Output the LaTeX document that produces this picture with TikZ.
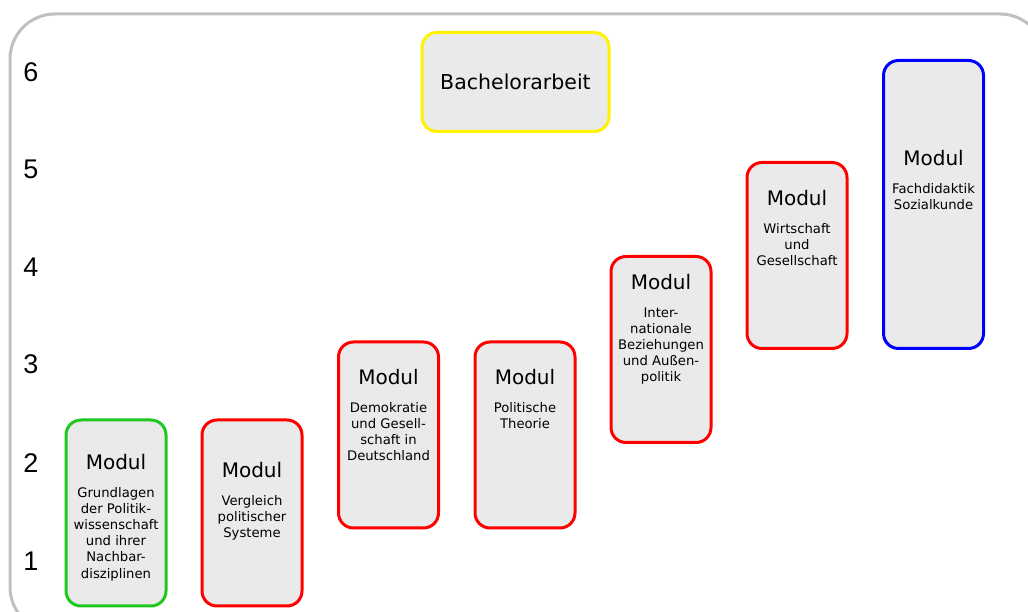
\documentclass[tikz,border=0pt]{standalone}
\usepackage{fontspec}
\setmainfont{DejaVu Sans}
\newfontfamily\numfont{Liberation Sans}
\usetikzlibrary{positioning}
\definecolor{grgreen}{RGB}{30,200,30}
\definecolor{boxgray}{RGB}{234,234,234}
\definecolor{framegray}{RGB}{192,192,192}
\begin{document}
\begin{tikzpicture}[x=1pt, y=1pt]
      \tikzstyle{modbox} = [draw, fill=boxgray, line width=3pt, rounded corners=15pt, minimum width=100pt, minimum height=186pt, inner sep=0pt]
      \tikzstyle{modtitle} = [font=\fontsize{20}{24}\selectfont, inner sep=0pt, anchor=north]
      \tikzstyle{modtext} = [font=\fontsize{13.2}{16.2}\selectfont, align=center, inner sep=0pt, node distance=17pt]
      \tikzstyle{sem} = [font=\numfont\fontsize{27}{27}\selectfont, inner sep=0pt]
      \useasboundingbox (0,0) rectangle (1028,612);

      % frame
      \draw[framegray, line width=3pt, rounded corners=45pt] (10,598) rectangle (1045,-20);

      % semesters
      \node[sem](s6) at (31,540){6};
      \node[sem](s5) at (31,443){5};
      \node[sem](s4) at (31,345){4};
      \node[sem](s3) at (31,248){3};
      \node[sem](s2) at (31,149){2};
      \node[sem](s1) at (31,51){1};

      % modules
      \node[modbox, draw=grgreen](m1) at (116,99){};
      \node[modtitle, below=35.5pt of m1.north](t1){Modul};
      \node[modtext, below=of t1](x1){Grundlagen\\der Politik-\\wissenschaft\\und ihrer\\Nachbar-\\disziplinen};

      \node[modbox, draw=red](m2) at (252,99){};
      \node[modtitle, below=43.5pt of m2.north](t2){Modul};
      \node[modtext, below=of t2](x2){Vergleich\\politischer\\Systeme};

      \node[modbox, draw=red](m3) at (388.5,177){};
      \node[modtitle, below=28.5pt of m3.north](t3){Modul};
      \node[modtext, below=of t3](x3){Demokratie\\und Gesell-\\schaft in\\Deutschland};

      \node[modbox, draw=red](m4) at (525,177){};
      \node[modtitle, below=28.5pt of m4.north](t4){Modul};
      \node[modtext, below=of t4](x4){Politische\\Theorie};

      \node[modbox, draw=red](m5) at (661,262.5){};
      \node[modtitle, below=19.5pt of m5.north](t5){Modul};
      \node[modtext, below=of t5](x5){Inter-\\nationale\\Beziehungen\\und Außen-\\politik};

      \node[modbox, draw=red](m6) at (797,356.5){};
      \node[modtitle, below=29.5pt of m6.north](t6){Modul};
      \node[modtext, below=of t6](x6){Wirtschaft\\und\\Gesellschaft};

      \node[modbox, draw=blue, minimum height=288pt](m7) at (933.5,407.5){};
      \node[modtitle, below=91.5pt of m7.north](t7){Modul};
      \node[modtext, below=of t7](x7){Fachdidaktik\\Sozialkunde};

      % thesis
      \node[modbox, draw=yellow, minimum width=187pt, minimum height=99pt, font=\fontsize{20.5}{24}\selectfont](ba) at (515.5,530){Bachelorarbeit};
\end{tikzpicture}
\end{document}
